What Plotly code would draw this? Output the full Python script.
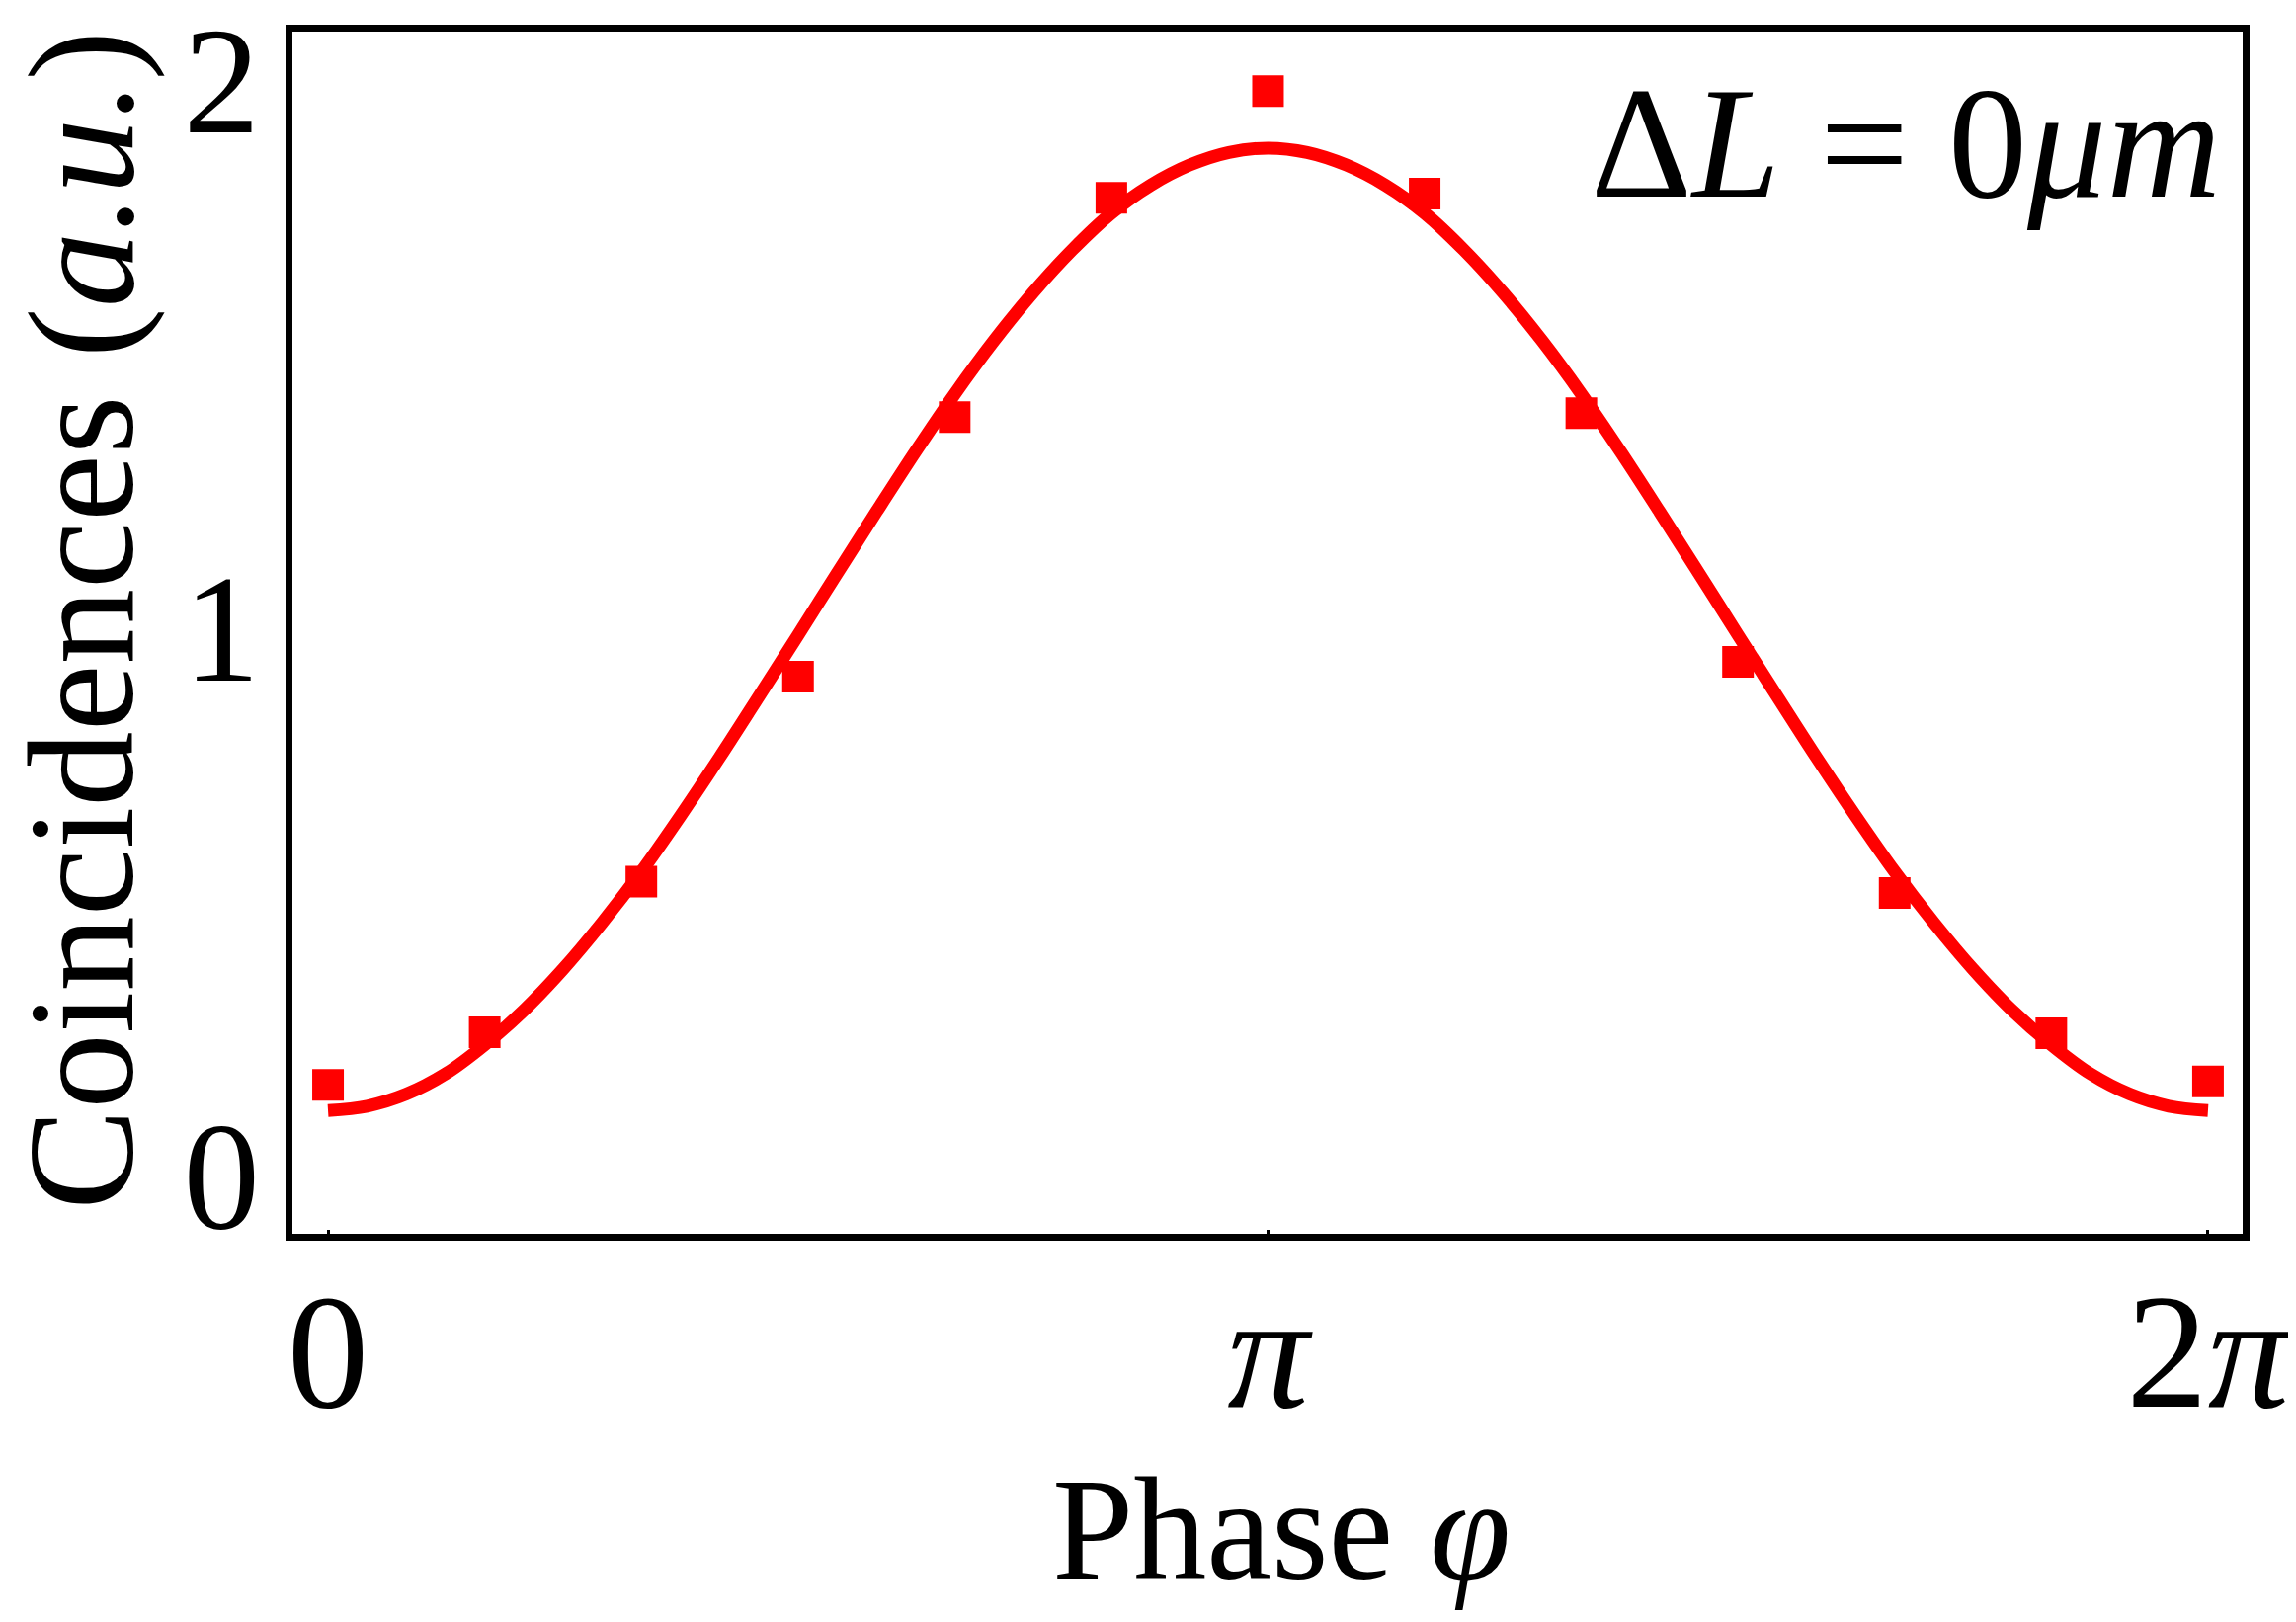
import numpy as np
import plotly.graph_objects as go

# Measured data: phase in units of pi/6 steps
phase_steps = [0, 1, 2, 3, 4, 5, 6, 7, 8, 9, 10, 11, 12]
coinc = [0.164, 0.260, 0.535, 0.909, 1.383, 1.783, 1.978, 1.791, 1.390, 0.936, 0.514, 0.258, 0.170]

# Fit curve at pi/24 steps (0 .. 2*pi)
fit_steps = list(range(49))
fit_half = [0.117, 0.125, 0.147, 0.184, 0.237, 0.300, 0.375, 0.460, 0.553, 0.655, 0.762, 0.873,
            0.985, 1.098, 1.210, 1.320, 1.425, 1.522, 1.610, 1.688, 1.755, 1.806, 1.843, 1.866, 1.874]
fit_vals = fit_half + fit_half[-2::-1]

xtick_vals = [0, np.pi, 2 * np.pi]
xtick_text = ["0", "<i>π</i>", "2<i>π</i>"]
ytick_vals = [0, 1, 2]
ytick_text = ["0", "1", "2"]

x_data = [s * np.pi / 6 for s in phase_steps]
x_fit = [s * np.pi / 24 for s in fit_steps]

RED = "#ff0000"
FONT = "Liberation Serif"

fig = go.Figure()
fig.add_trace(go.Scatter(x=x_fit, y=fit_vals, mode="lines",
                         line=dict(color=RED, width=13, shape="spline"),
                         showlegend=False, hoverinfo="skip"))
fig.add_trace(go.Scatter(x=x_data, y=coinc, mode="markers",
                         marker=dict(symbol="square", size=32, color=RED, line=dict(width=0)),
                         showlegend=False))

fig.update_layout(
    width=2324, height=1642,
    margin=dict(l=288, r=62, t=24, b=401),
    paper_bgcolor="white", plot_bgcolor="white",
    font=dict(family=FONT, color="black"),
    xaxis=dict(range=[-0.119, 6.399], tickvals=xtick_vals, ticktext=xtick_text,
               showgrid=False, zeroline=False, automargin=False,
               showline=True, linecolor="black", linewidth=7, mirror=True,
               ticks="inside", ticklen=4, tickwidth=3, tickcolor="black",
               tickfont=dict(family=FONT, size=165, color="black"),
               ticklabelstandoff=-30, ticklabeloverflow="allow"),
    yaxis=dict(range=[-0.108, 2.0866], tickvals=ytick_vals, ticktext=ytick_text,
               showgrid=False, zeroline=False, automargin=False,
               showline=True, linecolor="black", linewidth=7, mirror=True,
               ticks="", tickfont=dict(family=FONT, size=155, color="black"),
               ticklabelstandoff=-5, ticklabeloverflow="allow"),
    annotations=[
        dict(text="Coincidences (<i>a.u.</i>)", xref="paper", yref="paper",
             x=-0.108, y=0.5103, xanchor="center", yanchor="middle",
             textangle=-90, showarrow=False,
             font=dict(family=FONT, size=153, color="black")),
        dict(text="Phase <i>φ</i>", xref="paper", yref="paper",
             x=0.507, y=-0.246, xanchor="center", yanchor="middle",
             showarrow=False, font=dict(family=FONT, size=148, color="black")),
        dict(text="Δ<i>L</i> = 0<i>μm</i>", xref="paper", yref="paper",
             x=0.99, y=0.907, xanchor="right", yanchor="middle",
             showarrow=False, font=dict(family=FONT, size=160, color="black")),
    ],
)

fig.write_html("out.html")
